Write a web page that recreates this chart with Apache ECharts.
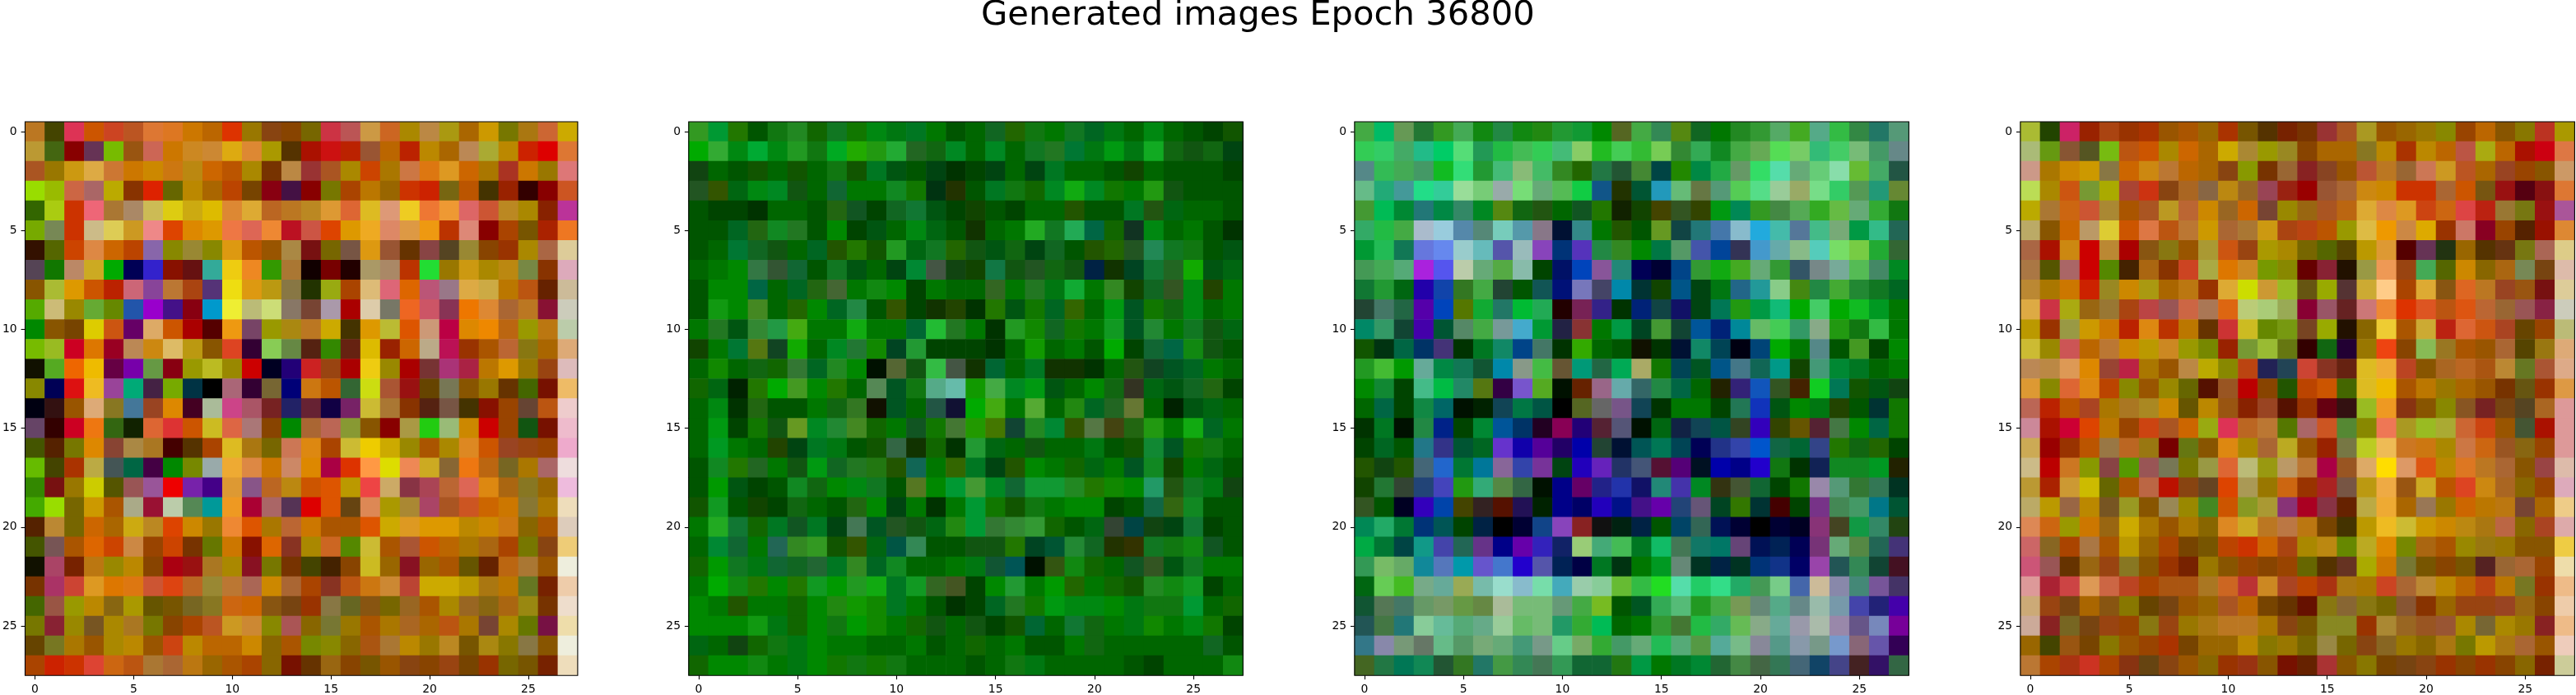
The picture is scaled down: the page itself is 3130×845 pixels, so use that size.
<!DOCTYPE html>
<html>
<head>
    <meta charset="utf-8">
    <style type="text/css">
        html,body { margin: 0px; padding: 0px; background: #fff; }
        #chart { width: 3130px; height: 845px; }
    </style>
    <script src="https://cdn.jsdelivr.net/npm/echarts/dist/echarts.min.js"></script>
</head>
<body>
<div id="chart"></div>
<script type="text/javascript">
    var titleText = 'Generated images Epoch 36800';
    // pixel index 0..27 on both axes, ticks every 5
    var pixelIndex = [];
    for (var i = 0; i < 28; i++) pixelIndex.push(String(i));
    var tickStep = 5;

    // 28x28 RGB images, one row per string, 3-digit hex per pixel
    var image1 = [
        'b72 440 d35 c50 c42 b52 d73 d72 c70 b60 d30 970 841 840 760 c34 b55 c94 c62 a80 b84 a91 a60 c90 770 a71 c63 ca0',
        'b93 461 800 635 7b0 951 c65 c70 c82 c83 da1 d83 a90 530 a10 c11 b20 953 b60 b20 b80 a60 b85 aa3 b80 c20 d00 d73',
        'a52 970 c91 da4 c73 c70 c80 c71 b81 c60 b50 a80 730 b84 933 a52 a80 c40 a70 c74 d71 d92 c60 a70 a32 c70 970 d77',
        '9d0 9b0 c64 a66 ba0 830 d20 660 b80 a60 b40 740 801 414 800 770 a40 b70 960 c30 c20 761 b50 430 920 300 800 c52',
        '360 ac1 c30 e67 a73 a86 cb5 dc1 ca1 db0 d83 da3 b62 b72 b82 d93 d63 db2 d97 ec2 e73 e93 d66 c53 b82 a80 820 b39',
        '7a0 785 c30 cb8 dc5 c92 e88 d40 d80 d90 e74 d65 e83 b12 c54 d40 d90 ea2 d86 d94 e91 b30 d87 800 a40 750 a20 e72',
        '310 560 c40 d84 c60 b40 86a 880 983 880 d91 b50 950 a84 711 760 754 d91 953 630 844 542 983 840 930 a80 a64 dc9',
        '545 170 b86 ca2 0a0 005 32c 810 611 3a9 ec1 e82 390 a73 100 700 200 a96 a86 b30 2d3 970 c91 a80 b81 784 830 dab',
        '850 ab3 d90 c50 b20 c67 849 b73 a41 537 ed1 d91 b91 874 230 9a1 a40 db7 d67 d60 b57 978 da4 ca4 b70 b51 620 cb9',
        '5a0 cb7 980 6a3 680 25a 90c 418 801 09c ee3 bb7 cd7 876 743 a9a a00 dca 776 e62 c56 835 e70 d83 a63 b72 813 ccb',
        '080 850 740 dc0 c51 606 da6 c50 a00 500 e91 746 990 a81 b72 ca0 430 d90 bb3 d50 c97 b04 d80 e80 b61 990 b71 bca',
        '7b0 9b2 c02 d70 902 b85 c81 db6 b91 850 d42 303 8c5 684 521 380 621 db0 920 c60 ba8 b15 930 a50 b63 871 a60 da7',
        '110 5a2 e60 eb0 604 70a 694 801 990 bb2 980 c00 002 207 c22 941 a00 ec1 980 a00 733 a37 a24 b70 d90 970 941 dbb',
        '880 005 d11 eb2 949 0a7 424 7a0 034 000 a67 303 763 007 c71 b50 363 cd1 a53 911 640 775 850 970 630 460 710 eb6',
        '001 311 950 da7 872 479 942 d80 402 ab9 c48 a56 722 226 623 104 726 cb3 a73 830 521 754 430 810 940 643 b51 ecc',
        '646 300 c02 e71 361 120 d63 d33 c50 cb2 d64 a77 840 080 a63 b65 893 850 800 a94 2c1 9b7 c80 c00 940 151 710 ebc',
        '450 520 770 d80 843 a84 a72 400 530 a40 db2 a71 760 c75 d81 a40 cb3 ec0 ca0 980 a50 a80 d82 c50 942 941 940 eac',
        '6b0 440 a30 ba4 455 064 404 080 780 9aa ea3 d84 c70 c86 d80 a04 d30 f94 dd0 e85 ca2 863 e71 b61 762 a70 a66 edd',
        '380 711 970 cc0 550 955 959 e00 72a 408 d93 858 b62 b81 c50 d50 b90 e44 ca6 834 a45 b63 d65 d81 a61 872 960 ebd',
        '4a0 9d0 760 c90 a50 aa8 913 bca 585 099 e92 a03 a66 535 d00 d50 641 d85 a90 a83 a46 a52 c52 c60 c70 873 a70 edb',
        '520 b83 760 c60 a60 ca1 b82 d40 c80 970 e83 d50 a70 b63 c70 a50 a50 d50 ca0 d92 d90 d90 b80 c80 c71 860 a50 dcb',
        '450 755 a50 d60 c40 c84 940 c40 730 670 c70 810 d60 832 a80 c62 580 cb3 a50 a53 c50 b60 a70 a61 a40 770 841 ec7',
        '110 a46 720 b71 980 b80 840 a01 911 a72 a80 812 770 730 440 420 840 cb2 960 812 960 a50 650 620 b61 a73 950 eed',
        '730 a36 c43 d92 d70 d71 c53 d41 b62 983 b73 a65 c80 a63 a40 832 b51 c71 c83 b43 ca0 ca0 b90 a71 b70 672 720 eca',
        '460 954 990 b80 861 a90 650 750 762 872 c61 c60 851 741 930 874 662 851 760 962 a50 a80 962 861 a61 981 730 edc',
        '770 823 980 752 a80 a72 770 840 a40 b52 c92 c83 880 a55 860 773 970 a50 a70 a62 a60 b51 a70 743 a80 670 714 eda',
        '640 772 a70 950 a80 b80 950 c41 b80 b60 b60 c80 860 a50 780 880 860 a51 a73 b80 970 b82 750 a81 870 874 850 eed',
        'a40 c20 c30 d43 c61 b51 a73 a63 b71 960 a50 a40 860 710 630 961 840 750 950 841 840 941 740 930 760 750 720 edb'
    ];
    var image2 = [
        '392 093 270 050 171 282 160 172 170 081 071 072 070 050 060 162 260 171 070 172 062 071 060 081 060 050 040 150',
        '0a0 3a3 081 0a3 081 292 171 0a2 2a0 291 2a3 262 161 082 060 082 060 172 272 073 071 091 071 1a2 161 151 161 041',
        '141 060 050 150 060 150 060 171 150 072 051 050 041 030 040 041 060 041 072 060 060 050 140 060 050 050 050 040',
        '252 350 061 081 082 151 060 163 070 070 182 170 031 230 050 072 171 160 082 1a1 082 170 070 291 151 050 050 050',
        '050 040 040 030 060 060 050 261 152 040 162 173 051 040 140 050 040 060 060 250 050 050 072 251 061 060 060 050',
        '050 050 062 261 182 272 050 080 040 051 060 081 061 050 130 060 070 2a2 172 2a5 064 160 132 081 060 070 050 030',
        '050 060 073 162 151 060 062 250 270 150 292 061 172 260 151 051 161 041 162 050 250 260 252 285 172 171 050 051',
        '060 070 080 374 353 163 050 172 051 060 041 083 454 141 140 174 151 252 161 151 024 130 042 173 262 1a0 051 061',
        '050 080 080 064 060 062 261 463 070 181 080 040 070 060 060 362 070 272 071 1a3 070 382 140 162 352 081 240 070',
        '050 191 080 482 060 260 080 062 284 050 350 040 130 240 030 270 051 170 062 360 060 091 052 170 161 081 060 070',
        '070 272 051 383 294 4a1 070 070 1a1 070 070 063 2b3 272 070 030 292 180 162 170 070 192 052 283 070 172 151 061',
        '140 070 073 571 142 1a0 060 082 273 180 042 293 040 040 040 030 060 190 060 070 050 0a0 040 163 064 181 151 050',
        '060 180 060 161 160 373 062 282 080 010 563 151 3b4 454 130 063 060 072 130 130 030 060 251 142 052 062 070 060',
        '160 061 020 270 0a0 492 080 270 060 585 052 171 5a8 6ba 190 4a4 082 091 051 060 080 161 332 061 051 162 261 040',
        '060 081 030 261 050 050 070 161 372 110 052 060 254 113 0a0 4a1 070 5a3 060 281 062 262 673 060 020 051 061 060',
        '060 091 040 170 151 692 082 283 482 160 070 152 170 473 290 470 143 282 083 350 574 441 261 291 070 1a1 062 070',
        '060 092 070 060 240 041 072 071 050 150 364 130 160 030 293 061 060 151 060 060 071 050 150 183 052 170 171 060',
        '050 182 270 262 070 151 091 162 272 271 250 165 070 360 072 041 250 080 070 160 061 070 052 182 140 070 061 050',
        '050 090 051 040 050 182 161 080 081 172 050 572 080 093 493 082 163 193 193 282 270 180 080 296 251 172 071 141',
        '150 192 050 140 040 161 060 050 261 080 041 070 030 070 093 170 150 171 070 080 080 040 050 164 361 182 050 050',
        '070 2a2 173 160 072 152 072 041 475 052 252 151 061 281 093 373 383 393 160 050 061 343 044 141 041 173 040 050',
        '060 083 163 070 265 382 392 150 350 061 054 385 050 050 151 151 270 042 053 283 162 230 330 172 171 181 152 050',
        '160 090 172 071 163 162 263 072 382 062 182 060 060 070 071 153 055 010 351 181 160 060 152 352 051 172 070 070',
        '070 0a0 181 270 080 270 192 090 292 1a1 072 192 362 452 040 080 293 070 090 260 070 160 150 282 181 192 040 060',
        '080 070 250 070 070 160 080 281 190 180 072 070 050 030 040 062 272 170 091 081 081 080 071 171 171 093 060 160',
        '080 080 080 191 071 160 080 171 090 180 070 160 151 060 151 040 150 063 060 173 161 070 071 180 070 081 170 040',
        '061 060 141 160 171 071 080 070 070 060 060 070 050 060 160 060 070 050 050 070 161 060 060 060 060 060 162 050',
        '160 080 080 181 070 071 080 170 171 170 171 060 060 060 050 060 171 071 060 060 060 060 050 040 060 060 060 181'
    ];
    var image3 = [
        '4a4 0b6 695 273 392 4a5 181 284 181 281 293 193 080 562 4a4 385 581 162 070 282 393 5a6 4a2 5a8 3b4 384 276 597',
        '3c5 3c6 4a6 2b8 0c6 5d7 295 2b4 4b5 3c5 4b7 8c6 2b2 4c5 3b3 7c5 383 3a5 182 4a4 6a5 5d5 7c6 3b7 4c6 7b7 496 688',
        '588 3b5 4a5 496 1b2 3d7 293 4b7 8b7 4b6 382 260 274 253 483 044 280 084 2a4 696 3d6 5da 6a7 6c7 8da 6b3 4a6 254',
        '6b8 2a7 499 2d8 3c9 9d9 7c7 9aa 7d7 6a7 5b5 1c4 158 230 053 29b 6b7 674 597 5c5 5d8 9c9 9a6 7d8 3c6 595 297 683',
        '493 0b5 083 277 084 386 082 581 161 251 060 152 270 120 140 440 352 340 091 085 392 484 5a5 3a2 6b4 6a7 3a3 171',
        '3a6 2b4 4a4 abc 9cd 58a 587 7cb 59a 878 013 388 070 250 050 692 144 277 47a 8bc 2ad 4ba 579 4b8 7a7 094 3b8 265',
        '093 2b5 175 67d 68e 9cc 6bb 55a 9bb 84b 037 53b 284 382 080 074 596 45a 049 335 49c 6aa 8b8 5cb 7d6 7c4 2a3 363',
        '495 4a5 5a7 a2d 55e bca 6a7 5a4 8ba 040 016 04b 859 287 005 003 048 393 1a1 4a2 6a7 393 356 788 7a9 5b5 486 082',
        '173 293 061 20a 14a 372 4a4 243 050 155 017 77b 446 08a 033 140 058 041 071 268 299 8c8 481 284 4a3 283 172 062',
        '243 476 264 50a 04b 570 1a3 276 0b3 2a5 200 725 328 030 027 144 116 041 075 291 094 1b7 0a0 4c6 0a0 1b2 092 070',
        '086 396 143 40a 053 586 4a4 799 4ac 093 224 833 070 094 042 493 143 059 027 089 6b6 4c5 396 8a8 291 171 3b4 070',
        '150 031 064 036 437 030 072 186 048 476 030 3a0 060 050 110 030 013 186 045 001 047 0a0 070 588 050 492 040 080',
        '292 4b3 090 6a9 084 175 153 08a 898 4b4 653 097 264 0a5 aa6 170 045 052 058 478 165 098 140 497 083 072 060 070',
        '080 183 040 4b8 0b4 286 571 304 75c 5a2 010 620 968 6aa 366 284 064 060 220 327 15b 352 420 1c2 075 150 051 141',
        '060 064 040 184 066 010 020 145 074 054 000 562 666 758 145 030 070 070 040 275 13b 051 080 071 240 050 033 170',
        '030 072 010 284 028 040 083 059 036 202 805 207 523 557 010 061 124 145 054 342 30b 340 650 523 474 080 064 170',
        '040 062 050 278 338 053 062 63c 10a 509 206 00a 243 013 055 075 045 005 238 34a 05c 164 063 348 270 161 260 040',
        '250 141 250 467 26c 073 079 869 34a 739 041 20b 62b 236 457 513 507 012 00a 008 20c 171 030 125 182 182 092 220',
        '140 273 343 247 44b 291 3a7 584 364 010 008 606 228 23a 116 287 43a 082 331 453 163 040 170 98a 597 373 375 032',
        '352 050 002 30b 04a 440 322 510 215 020 008 006 20b 018 418 60a 247 657 042 370 033 400 040 738 485 496 078 053',
        '085 2a6 073 037 055 040 024 000 003 148 84b 822 111 021 024 050 046 365 015 003 000 003 002 837 442 194 386 241',
        '0a4 073 044 198 44a 265 638 008 60a 32b 126 9c7 4a7 4b5 072 1b6 475 176 076 647 015 025 005 737 6a7 584 265 437',
        '395 7b6 6a6 189 57b 09a 65c 47c 20c 55a 025 004 072 031 070 092 687 032 024 032 037 138 006 94a 255 385 143 412',
        '061 6c5 4b2 7a8 6a9 9a5 7ba 9dc 8bc 7da 4ab 9ca 8c9 6b3 3b4 2d2 5da 2c6 3d8 2a6 495 7c8 46a cb9 88a 487 759 436',
        '153 575 476 696 796 694 684 ab9 7b7 7b7 697 4a4 7b2 050 052 3a5 5b7 292 4a4 795 687 5a8 688 9ba 79a 44a 227 40a',
        '255 474 277 8c9 6b9 5a7 6a8 9c9 6b6 7b7 296 3a3 0b5 060 070 393 473 2b4 3a6 6b5 8a8 6a9 99a aba 98a 658 78b 709',
        '378 88a 797 676 6b8 596 7a7 6a7 497 798 6c8 7a6 3a3 496 6a7 2b5 5a7 594 5a9 7b8 889 598 89a 798 79c 867 65a 305',
        '462 274 075 185 253 372 276 494 385 475 395 163 163 271 094 070 072 083 263 484 464 375 467 146 448 422 316 364'
    ];
    var image4 = [
        'ab3 240 c26 920 a41 930 a30 950 a50 960 a30 750 530 720 730 933 a52 a92 950 960 970 880 940 b60 850 870 b32 a90',
        'ab7 691 853 552 7b1 b51 c50 a80 c60 a60 ca0 a83 990 982 840 a60 a60 872 b80 a30 b80 b60 b54 aa1 b60 a10 c01 d74',
        'c98 a70 c80 c90 874 c60 c81 b73 b60 a60 841 890 730 963 822 842 950 b53 b72 963 c75 c92 b52 a60 942 940 850 c96',
        'bd5 a80 c51 793 aa0 a43 c31 841 a62 864 b81 962 945 921 900 953 a63 c81 c80 c30 c30 a63 c50 751 911 501 811 d73',
        'ba0 a73 c61 c53 a83 a50 a52 b92 b63 c80 962 c60 743 980 961 a52 b61 da3 d84 d92 c41 c61 d44 b21 973 771 911 a59',
        'ba6 850 c60 b96 dc3 c50 d74 b51 b73 c90 a63 a73 c91 a41 b41 b50 990 db4 e90 c84 da0 930 c76 802 940 520 910 d83',
        'a64 a10 c81 c00 b83 a00 851 871 950 a93 c51 941 a90 a80 760 560 540 b90 d93 500 635 231 960 530 631 771 a65 dc8',
        'a74 550 a66 c00 580 420 a61 830 c42 aa4 d70 c82 790 880 600 823 210 994 e95 941 4a5 560 c80 860 a61 785 741 dba',
        'b83 a70 c70 c20 982 c80 a91 a60 b71 930 da3 cd0 c93 9b2 651 9a0 533 ca3 fc8 a40 da3 851 d62 b72 942 951 711 dc9',
        'da4 c34 aa1 961 973 a41 b44 955 c64 a75 d61 bc7 ac7 9a5 803 956 622 c77 e83 d30 d52 b51 d51 b63 963 955 824 ccb',
        'b90 930 994 c90 c70 b20 d81 b30 b70 630 c33 cb2 680 791 742 9a0 210 860 ec3 a50 ca3 b21 d63 c51 a42 640 940 bb7',
        'cb3 980 c55 b60 b73 c80 b90 c82 990 780 920 793 9b3 671 300 161 203 970 e41 840 8b5 972 a50 950 a63 540 971 da7',
        'b85 b84 d95 d80 943 b24 a70 950 b84 ba0 880 b41 225 245 c43 832 621 db2 ea3 b42 850 a62 b62 a51 b83 672 a53 da8',
        'd93 880 d63 d81 b40 880 950 980 660 510 952 b00 840 250 b40 c50 460 db2 eb0 a50 b70 970 a60 950 730 651 930 d94',
        'b65 b20 b50 a42 a70 a72 a82 c80 650 b80 951 820 942 510 930 601 311 9b2 e92 831 850 880 852 722 741 542 a62 d99',
        'c89 a10 c03 d40 b70 940 c41 a52 c60 9a1 d35 b62 b73 570 a66 c52 583 880 e75 a92 9b2 aa3 c63 c41 950 453 a10 d99',
        'ca5 900 930 b50 974 b62 971 700 671 850 d81 a80 a63 ba2 950 920 774 bc2 eb5 c72 c71 a80 c74 c61 952 861 940 d99',
        'cb8 b00 c72 890 844 590 955 775 770 994 d63 bb7 991 b96 b73 a04 952 da6 fd0 d96 d51 b80 d72 b72 a63 850 944 dba',
        'b93 a20 c93 cb0 660 a50 b64 b10 841 642 d40 a95 970 c61 930 a22 754 b91 ea4 951 ca2 b50 d42 c81 a62 860 940 dab',
        'ba6 b90 964 b80 752 992 850 985 980 482 c50 892 a93 837 a02 834 620 ba4 ea3 a60 975 970 c60 b70 b71 743 a60 ec8',
        'd85 c61 990 c70 961 ca0 a70 950 a70 860 d82 ca2 b72 b74 b71 740 430 b90 eb2 cb3 c90 c80 b81 a71 b64 860 a42 daa',
        'c66 862 a40 a74 a50 b90 960 a40 740 750 b40 c30 c60 a41 a80 b81 680 ba2 d80 780 a61 a50 980 971 970 850 850 ec4',
        'c57 955 630 961 941 872 850 930 720 970 850 940 840 940 660 530 632 aa0 c70 773 750 840 750 522 963 a63 940 eda',
        'd99 a23 c44 d95 c64 b42 a40 a51 a51 a72 c62 b33 c82 a42 b40 a31 a71 a70 c42 a63 b83 b80 b60 b41 b70 772 930 eb8',
        'ca7 941 741 a60 851 870 640 741 950 960 a52 b60 740 630 610 871 863 871 760 853 830 960 941 941 942 961 840 eca',
        'ca9 822 762 741 941 940 871 941 970 a71 b72 b72 a70 841 750 882 882 930 a83 962 952 953 a80 763 a80 970 822 eb8',
        '960 440 951 740 870 950 940 a30 740 960 960 b80 870 970 760 984 760 841 862 970 860 a71 770 b90 a71 a63 950 ecb',
        'b73 a40 a31 c32 a40 831 641 841 950 860 930 931 850 710 620 a33 850 870 740 741 841 930 840 930 840 860 720 cc9'
    ];

    var images = [image1, image2, image3, image4];
    var panelLeft = [28.4, 836.8, 1645.9, 2454.9];
    var panelTop = 148;
    var panelSize = 673.5;

    var font = 'DejaVu Sans';
    function showTick(idx) { return idx % tickStep === 0; }

    var grids = [], xAxes = [], yAxes = [], series = [];

    function makeRender(colors) {
        return function (params, api) {
            var p = api.coord([api.value(0), api.value(1)]);
            var s = api.size([1, 1]);
            return {
                type: 'rect',
                shape: { x: p[0] - s[0] / 2 - 0.3, y: p[1] - s[1] / 2 - 0.3, width: s[0] + 0.6, height: s[1] + 0.6 },
                style: { fill: colors[params.dataIndex] }
            };
        };
    }

    images.forEach(function (rows, k) {
        var cells = [], colors = [];
        rows.forEach(function (row, y) {
            row.split(' ').forEach(function (c, x) {
                cells.push([x, y]);
                colors.push('#' + c);
            });
        });
        grids.push({
            left: panelLeft[k], top: panelTop, width: panelSize, height: panelSize,
            show: true, borderColor: '#000', borderWidth: 1.1, backgroundColor: 'transparent', z: 10
        });
        var axisCommon = {
            type: 'category', gridIndex: k, data: pixelIndex,
            axisLine: { show: false },
            axisTick: { show: true, interval: showTick, alignWithLabel: true, length: 4.9, lineStyle: { color: '#000', width: 1.1 } },
            axisLabel: { interval: showTick, margin: 9.8, fontSize: 13.9, fontFamily: font, color: '#000' },
            splitLine: { show: false }
        };
        xAxes.push(Object.assign({}, axisCommon, { position: 'bottom' }));
        yAxes.push(Object.assign({}, axisCommon, { position: 'left', inverse: true }));
        series.push({
            type: 'custom', xAxisIndex: k, yAxisIndex: k, clip: true, silent: true,
            data: cells, renderItem: makeRender(colors)
        });
    });

    var myChart = echarts.init(document.getElementById('chart'));
    myChart.setOption({
        animation: false,
        backgroundColor: '#fff',
        title: {
            text: titleText, left: 1192, top: -2, padding: 0,
            textStyle: { fontFamily: font, fontSize: 41.7, fontWeight: 'normal', color: '#000' }
        },
        grid: grids,
        xAxis: xAxes,
        yAxis: yAxes,
        series: series
    });
</script>
</body>
</html>
